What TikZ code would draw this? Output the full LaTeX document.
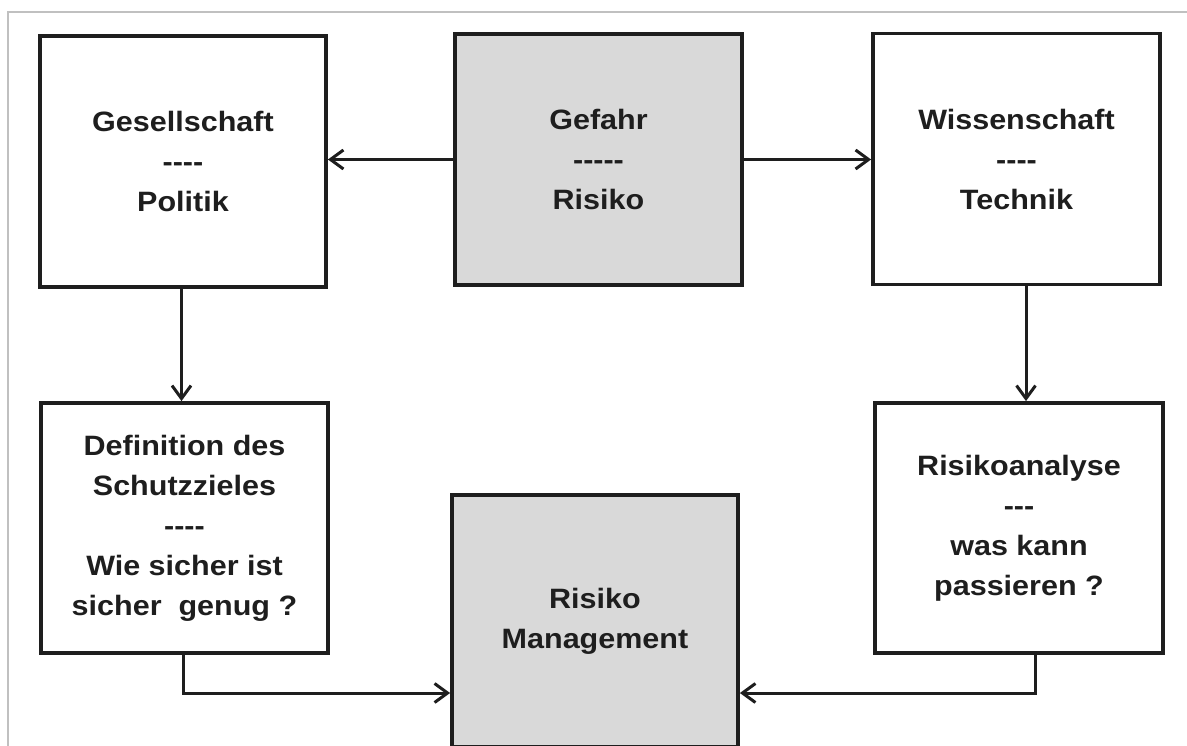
\documentclass[tikz,border=0pt]{standalone}
\usepackage{fontspec}
\usetikzlibrary{arrows.meta}
\newfontfamily\lab{Liberation Sans}[FakeStretch=1.09]
\def\hy{\mbox{-}}
\definecolor{boxgray}{HTML}{D9D9D9}
\definecolor{framegray}{HTML}{C0C0C0}
\definecolor{ink}{HTML}{1E1E1E}
\tikzset{
  box/.style={draw=ink, line width=3.8pt, minimum width=#1, minimum height=251pt,
    inner sep=0pt, align=center, text=ink,
    font=\lab\bfseries\fontsize{28}{40}\selectfont},
  box/.default=287pt,
  shaded/.style={fill=boxgray},
  arr/.style={draw=ink, line width=3pt,
    -{Straight Barb[length=13pt,width=19pt,line width=3pt]}},
  frame/.style={draw=framegray, line width=1.2pt}
}
\begin{document}
\begin{tikzpicture}[x=1pt,y=-1pt]
\useasboundingbox (0,0) rectangle (1187,746);
\clip (0,0) rectangle (1187,746);
\fill[white] (0,0) rectangle (1187,746);
\draw[frame] (1187,12) -- (8,12) -- (8,746);

\node[box=286pt] (ges) at (183,161.5) {Gesellschaft\\\hy\hy\hy\hy\\Politik};
\node[box, shaded] (gef) at (598.5,159.5) {Gefahr\\\hy\hy\hy\hy\hy\\Risiko};
\node[box] (wis) at (1016.5,159) {Wissenschaft\\\hy\hy\hy\hy\\Technik};
\node[box, minimum height=250pt] (def) at (184.5,528) {Definition des\\Schutzzieles\\\hy\hy\hy\hy\\Wie sicher ist\\sicher\ \ genug ?};
\node[box=286pt, shaded, minimum height=252pt] (rm) at (595,621) {Risiko\\Management};
\node[box=288pt, minimum height=250pt] (ana) at (1019,528) {Risikoanalyse\\\hy\hy\hy\\was kann\\passieren ?};

\draw[arr] (gef.west) -- (gef.west -| ges.east);
\draw[arr] (gef.east) -- (gef.east -| wis.west);
\draw[arr] ([xshift=-1.5pt]ges.south) -- ([xshift=-1.5pt]ges.south |- def.north);
\draw[arr] ([xshift=9.5pt]wis.south) -- ([xshift=9.5pt]wis.south |- ana.north);
\draw[arr] ([xshift=-1.5pt]def.south) |- (rm.west |- 0,693);
\draw[arr] ([xshift=16pt]ana.south) |- (rm.east |- 0,693);
\end{tikzpicture}
\end{document}
